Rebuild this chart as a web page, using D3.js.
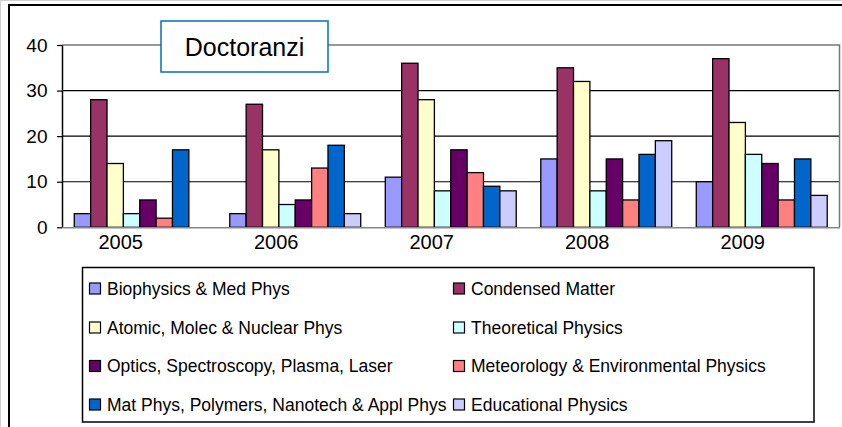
<!DOCTYPE html>
<html>
<head>
<meta charset="utf-8">
<script src="https://cdn.jsdelivr.net/npm/d3@7"></script>
<style>
  body { margin: 0; background: #fff; }
  svg { display: block; }
  text { font-family: "Liberation Sans", Arial, sans-serif; fill: #000; }
</style>
</head>
<body>
<script>
// categories (years)
var years = ["2005", "2006", "2007", "2008", "2009"];
// series names
var seriesNames = [
    "Biophysics & Med Phys",
    "Condensed Matter",
    "Atomic, Molec & Nuclear Phys",
    "Theoretical Physics",
    "Optics, Spectroscopy, Plasma, Laser",
    "Meteorology & Environmental Physics",
    "Mat Phys, Polymers, Nanotech & Appl Phys",
    "Educational Physics"
];
// series values, one per year (null = no bar)
var biophysics  = [3, 3, 11, 15, 10];
var condensed   = [28, 27, 36, 35, 37];
var atomic      = [14, 17, 28, 32, 23];
var theoretical = [3, 5, 8, 8, 16];
var optics      = [6, 6, 17, 15, 14];
var meteorology = [2, 13, 12, 6, 6];
var matPhys     = [17, 18, 9, 16, 15];
var educational = [null, 3, 8, 19, 7];
var yTicks = [0, 10, 20, 30, 40];
var title = "Doctoranzi";

// excel palette
var colors = ["#9999FF", "#993366", "#FFFFCC", "#CCFFFF", "#660066", "#FF8080", "#0066CC", "#CCCCFF"];

var allValues = [biophysics, condensed, atomic, theoretical, optics, meteorology, matPhys, educational];

var W = 842, H = 427;
// plot area (note: "top" is taken by window.top)
var plotLeft = 62, plotRight = 839.5, plotTop = 45, plotBottom = 227.3;

var svg = d3.select("body").append("svg")
    .attr("width", W)
    .attr("height", H);

// outer frame (runs off the picture on right/bottom)
svg.append("line").attr("x1", 0.5).attr("y1", 0).attr("x2", 0.5).attr("y2", H)
    .attr("stroke", "#d0d0d0").attr("stroke-width", 1);
svg.append("line").attr("x1", 0).attr("y1", 0.5).attr("x2", W).attr("y2", 0.5)
    .attr("stroke", "#d0d0d0").attr("stroke-width", 1);
svg.append("rect")
    .attr("x", 9).attr("y", 5)
    .attr("width", W + 20).attr("height", H + 20)
    .attr("fill", "none").attr("stroke", "#000").attr("stroke-width", 2);

var x0 = d3.scaleBand().domain(years).range([plotLeft, plotRight]);
var x1 = d3.scaleBand().domain(d3.range(seriesNames.length))
    .range([0, x0.bandwidth()]).paddingInner(0).paddingOuter(0.75);
var y = d3.scaleLinear().domain([0, 40]).range([plotBottom, plotTop]);

// gridlines
var grid = svg.append("g");
grid.selectAll("line").data(yTicks.filter(function(d) { return d > 0 && d < 40; }))
    .enter().append("line")
    .attr("x1", plotLeft).attr("x2", plotRight)
    .attr("y1", function(d) { return y(d); })
    .attr("y2", function(d) { return y(d); })
    .attr("stroke", "#000").attr("stroke-width", 1.2);

// plot area border (top/right)
svg.append("path")
    .attr("d", "M" + plotLeft + "," + y(40) + "H" + plotRight + "V" + y(0))
    .attr("fill", "none").attr("stroke", "#777").attr("stroke-width", 1.5);

// bars
var groups = svg.selectAll(".year").data(years).enter().append("g")
    .attr("class", "year")
    .attr("transform", function(d) { return "translate(" + x0(d) + ",0)"; });
groups.each(function(yr, yi) {
    var g = d3.select(this);
    allValues.forEach(function(vals, si) {
        var v = vals[yi];
        if (v == null) return;
        g.append("rect")
            .attr("x", x1(si))
            .attr("y", y(v))
            .attr("width", x1.bandwidth())
            .attr("height", y(0) - y(v))
            .attr("fill", colors[si])
            .attr("stroke", "#000")
            .attr("stroke-width", 1.3);
    });
});

// y axis
var yAxis = svg.append("g")
    .attr("transform", "translate(" + plotLeft + ",0)")
    .call(d3.axisLeft(y).tickValues(yTicks).tickSize(5).tickSizeOuter(0).tickPadding(9.5));
yAxis.select(".domain").attr("stroke", "#000").attr("stroke-width", 1.5);
yAxis.selectAll(".tick line").attr("stroke", "#000").attr("stroke-width", 1.2);
yAxis.selectAll("text").style("font-size", "19px").attr("fill", "#000");

// x axis
var xAxis = svg.append("g")
    .attr("transform", "translate(0," + plotBottom + ")")
    .call(d3.axisBottom(x0).tickSize(0).tickSizeOuter(0).tickPadding(8));
xAxis.select(".domain").attr("stroke", "#888").attr("stroke-width", 1.5);
xAxis.selectAll("text").style("font-size", "20px").attr("fill", "#000").attr("dx", -19);

// title box
svg.append("rect")
    .attr("x", 161).attr("y", 21).attr("width", 167).attr("height", 51)
    .attr("fill", "#fff").attr("stroke", "#0070C0").attr("stroke-width", 1.5);
svg.append("text")
    .attr("x", 244.5).attr("y", 47)
    .attr("text-anchor", "middle").attr("dy", "0.35em")
    .style("font-size", "25px")
    .text(title);

// legend
var legend = svg.append("g");
legend.append("rect")
    .attr("x", 82.5).attr("y", 267.5).attr("width", 731.5).attr("height", 154.5)
    .attr("fill", "#fff").attr("stroke", "#000").attr("stroke-width", 1.5);
var colX = [89.5, 453.5], rowY = [288.5, 327.5, 366, 404.5];
var items = legend.selectAll(".item").data(seriesNames).enter().append("g")
    .attr("class", "item")
    .attr("transform", function(d, i) {
        return "translate(" + colX[i % 2] + "," + rowY[Math.floor(i / 2)] + ")";
    });
items.append("rect")
    .attr("x", 0).attr("y", -5.5).attr("width", 11).attr("height", 11)
    .attr("fill", function(d, i) { return colors[i]; })
    .attr("stroke", "#000").attr("stroke-width", 1.2);
items.append("text")
    .attr("x", 17.5).attr("y", 0).attr("dy", "0.35em")
    .style("font-size", "17.5px")
    .text(function(d) { return d; });
</script>
</body>
</html>
